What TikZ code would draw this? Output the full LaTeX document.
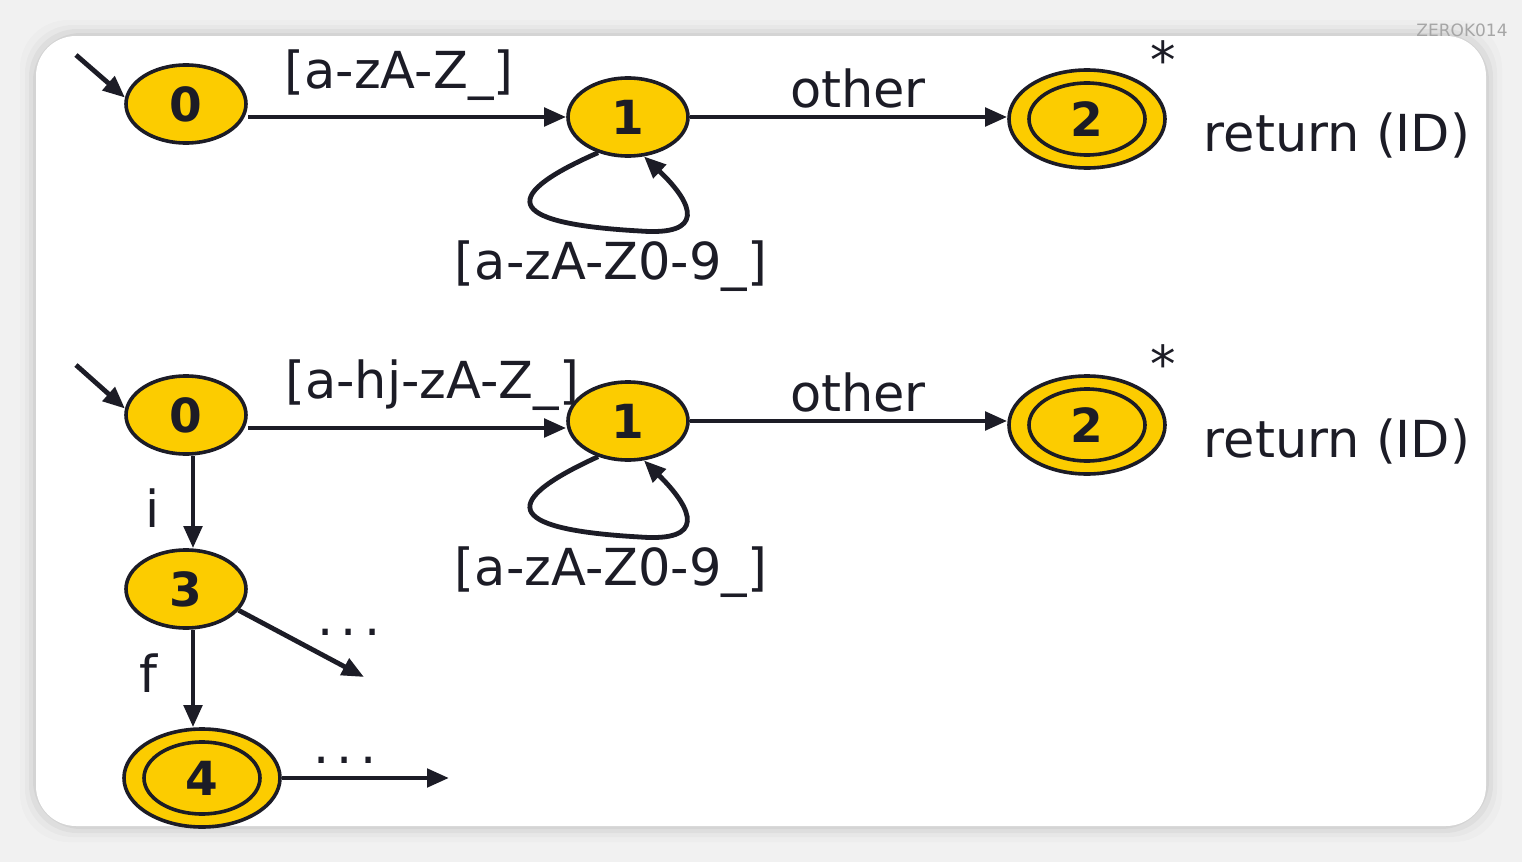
\documentclass[tikz,border=0pt]{standalone}
\usepackage{fontspec}
\setmainfont{DejaVu Sans}
\usetikzlibrary{arrows.meta,shapes.geometric}
\definecolor{stateyellow}{RGB}{252,204,0}
\definecolor{ink}{RGB}{28,28,38}
\definecolor{pagegray}{RGB}{241,241,241}
\newcommand{\threedots}{.\kern3.5pt.\kern3.5pt.}
\begin{document}
\begin{tikzpicture}[x=0.5pt,y=-0.5pt,
  state/.style={ellipse, draw=ink, line width=1.8pt, fill=stateyellow,
    minimum width=60pt, minimum height=39pt, inner sep=0pt,
    font=\fontsize{23.5}{23.5}\selectfont\bfseries, text=ink},
  accept/.style={ellipse, draw=ink, line width=1.8pt, fill=stateyellow,
    minimum width=78pt, minimum height=49pt, inner sep=0pt},
  ring/.style={ellipse, draw=ink, line width=1.8pt,
    minimum width=58pt, minimum height=36pt, inner sep=0pt,
    font=\fontsize{23.5}{23.5}\selectfont\bfseries, text=ink},
  trans/.style={draw=ink, line width=2.4pt, -{Triangle[length=11pt,width=9pt]}},
  lbl/.style={font=\fontsize{25.5}{25.5}\selectfont, text=ink, inner sep=0pt},
]
% page and card
\fill[pagegray] (0,0) rectangle (1522,862);
\useasboundingbox (0,0) rectangle (1522,862);
\foreach \s/\o in {16/0.015, 11/0.025, 7/0.035, 3/0.045}
  \fill[black, opacity=\o, rounded corners=24pt] (36-\s,36-\s) rectangle (1486+\s,826+\s);
\fill[white, rounded corners=20pt] (36,36) rectangle (1486,826);
\node[text=black!35, font=\fontsize{8.5}{8.5}\selectfont] (wm) at (1462,30) {ZEROK014};

% ---------- upper automaton ----------
\node[state] (a0) at (186,104) {0};
\node[state] (a1) at (628,117) {1};
\node[accept] (a2) at (1087,119) {};
\node[ring] (a2i) at (a2) {2};
\coordinate (a-start) at (76,55);
\draw[trans] (a-start) -- (a0.174);
\draw[trans] (a1.west -| a0.east) -- (a1.west);
\draw[trans] (a1.east) -- (a1.east -| a2.west);
\draw[trans] (a1.230) .. controls (490,200) and (515,224) .. (640,231)
  .. controls (705,236) and (695,205) .. (a1.292);
\node[lbl] (a01) at (399,75) {[a-zA-Z\_]};
\node[lbl] (a12) at (858,88) {other};
\node[lbl] (a11) at (611,266) {[a-zA-Z0-9\_]};
\node[lbl] (astar) at (1163,60) {*};
\node[lbl] (aret) at (1337,136) {return (ID)};

% ---------- lower automaton ----------
\node[state] (b0) at (186,415) {0};
\node[state] (b1) at (628,421) {1};
\node[accept] (b2) at (1087,425) {};
\node[ring] (b2i) at (b2) {2};
\node[state] (b3) at (186,589) {3};
\node[accept] (b4) at (202,778) {};
\node[ring] (b4i) at (b4) {4};
\coordinate (b-start) at (76,365);
\coordinate (b3-out) at (364,677);
\coordinate (b4-out) at (449,778);
\draw[trans] (b-start) -- (b0.174);
\draw[trans] (b1.west -| b0.east) ++(0,7) -- ([yshift=-3.5pt]b1.west);
\draw[trans] (b1.east) -- (b1.east -| b2.west);
\draw[trans] (b1.230) .. controls (490,506) and (515,530) .. (640,537)
  .. controls (705,542) and (695,511) .. (b1.292);
\draw[trans] ([xshift=3.5pt]b0.south) -- ([xshift=3.5pt]b0.south |- b3.north);
\draw[trans] ([xshift=3.5pt]b3.south) -- ([xshift=3.5pt]b3.south |- b4.north);
\draw[trans] (b3.-22) -- (b3-out);
\draw[trans] (b4.east) -- (b4-out);
\node[lbl] (b01) at (432,385) {[a-hj-zA-Z\_]};
\node[lbl] (b12) at (858,392) {other};
\node[lbl] (b11) at (611,572) {[a-zA-Z0-9\_]};
\node[lbl] (bstar) at (1163,364) {*};
\node[lbl] (bret) at (1337,442) {return (ID)};
\node[lbl] (b03) at (153,508) {i};
\node[lbl] (b34) at (148,673) {f};
\node[lbl] (b3d) at (349,632) {\threedots};
\node[lbl] (b4d) at (345,760) {\threedots};
\end{tikzpicture}
\end{document}
